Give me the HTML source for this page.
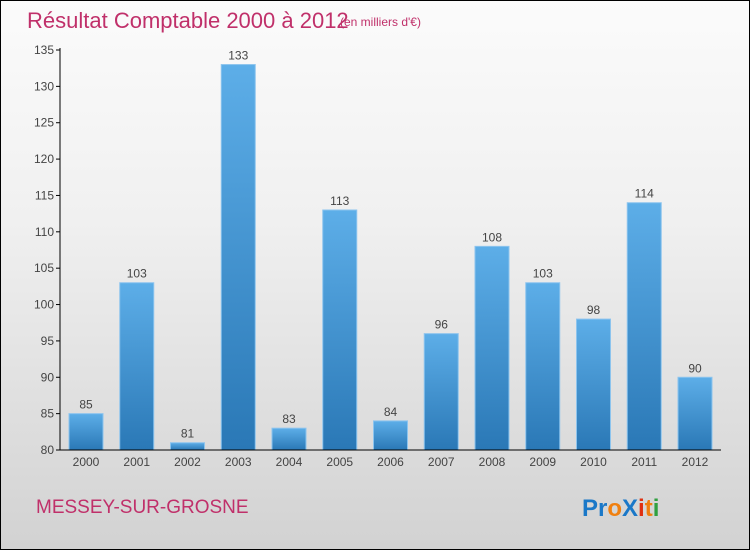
<!DOCTYPE html>
<html><head><meta charset="utf-8"><style>
body{margin:0}
#c{position:relative;width:748px;height:548px;border:1px solid #000;background:linear-gradient(#fbfbfb,#f0f0f0 40%,#d2d2d2);font-family:"Liberation Sans",sans-serif;overflow:hidden}
</style></head><body>
<div id="c">
<svg width="748" height="548" viewBox="1 1 748 548" style="position:absolute;left:0;top:0">
<defs><linearGradient id="g" x1="0" y1="0" x2="0" y2="1"><stop offset="0" stop-color="#5daee8"/><stop offset="1" stop-color="#2a78b6"/></linearGradient></defs>
<text x="27" y="28" font-size="22" fill="#c0306a">Résultat Comptable 2000 à 2012</text>
<text x="340" y="26" font-size="12" fill="#c0306a">(en milliers d'€)</text>
<g id="plot"></g>
<text x="36" y="513" font-size="19" fill="#c0306a">MESSEY-SUR-GROSNE</text>
<text x="582" y="516" font-size="24" font-weight="bold"><tspan fill="#1a78c8">Pr</tspan><tspan fill="#f08010">o</tspan><tspan fill="#1a78c8">X</tspan><tspan fill="#e03010">i</tspan><tspan fill="#f08010">t</tspan><tspan fill="#30a040">i</tspan></text>
</svg>
</div>
<script>
const years=["2000","2001","2002","2003","2004","2005","2006","2007","2008","2009","2010","2011","2012"];
const values=[85,103,81,133,83,113,84,96,108,103,98,114,90];
const ticks=[80,85,90,95,100,105,110,115,120,125,130,135];
const NS="http://www.w3.org/2000/svg";
const g=document.getElementById('plot');
const y=v=>450-(v-80)*400/55;
const x=i=>86+i*50.75;
function mk(t,a,txt){const e=document.createElementNS(NS,t);for(const k in a)e.setAttribute(k,a[k]);if(txt!=null)e.textContent=txt;g.appendChild(e);return e;}
ticks.forEach(t=>{
 const l=mk('line',{x1:56,x2:60,y1:y(t),y2:y(t),stroke:'#000'});
 
 
 const tx=mk('text',{x:54,y:y(t)+4,'font-size':12,fill:'#444','text-anchor':'end'},t);
 
 
});
years.forEach((yr,i)=>{
 const v=values[i];
 const r=mk('rect',{x:x(i)-17,y:y(v),width:34,height:450-y(v),fill:'url(#g)',stroke:'#8cc4ee','stroke-width':1});
 
 
 const vl=mk('text',{x:x(i),y:y(v)-5,'font-size':12,fill:'#444','text-anchor':'middle'},v);
 
 
 const xl=mk('text',{x:x(i),y:466,'font-size':12,fill:'#444','text-anchor':'middle'},yr);
 
 
});
const ya=mk('line',{x1:60,x2:60,y1:48,y2:450,stroke:'#000'});


const xa=mk('line',{x1:60,x2:721,y1:450,y2:450,stroke:'#000'});


</script>
</body></html>
